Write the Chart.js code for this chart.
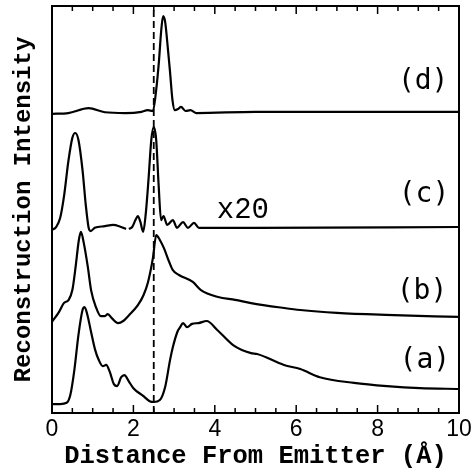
<!DOCTYPE html>
<html>
<head>
<meta charset="utf-8">
<script src="https://cdn.jsdelivr.net/npm/chart.js@4.4.1/dist/chart.umd.min.js"></script>
<style>
  html, body { margin: 0; padding: 0; background: #fff; }
  #wrap { width: 476px; height: 472px; }
</style>
</head>
<body>
<div id="wrap"><canvas id="recChart" width="476" height="472"></canvas></div>
<script>
// curve (d)
const xD = [0, 0.4, 0.9, 1.3, 1.8, 2.2, 2.35, 2.48, 2.56, 2.63, 2.68, 2.73, 2.78, 2.85, 2.9, 2.96, 3.02, 3.1, 3.17, 3.28, 3.4, 3.55, 5, 7, 10];
const yD = [73.5, 73.7, 74.9, 73.9, 73.7, 74.0, 74.4, 74.2, 79.4, 86.7, 93.6, 97.5, 96.1, 89.2, 83.8, 76.9, 74.4, 74.7, 75.2, 74.2, 74.4, 73.7, 74.0, 74.0, 74.0];

// curve (c), first part as measured
const xC1 = [0, 0.1, 0.2, 0.3, 0.4, 0.5, 0.57, 0.65, 0.75, 0.83, 0.9, 0.95, 1.05, 1.3, 1.5, 1.65, 1.82];
const yC1 = [45.0, 45.7, 47.9, 53.6, 61.7, 67.6, 68.8, 67.1, 59.7, 51.1, 45.5, 44.7, 45.5, 45.9, 46.2, 45.9, 45.2];

// curve (c), second part (x20)
const xC2 = [1.89, 1.97, 2.05, 2.11, 2.17, 2.24, 2.3, 2.37, 2.44, 2.5, 2.56, 2.62, 2.68, 2.74, 2.83, 2.97, 3.07, 3.22, 3.34, 3.49, 3.61, 5, 10];
const yC2 = [45.2, 45.7, 47.4, 48.4, 47.0, 44.5, 48.6, 57.2, 67.1, 70.3, 67.1, 56.0, 47.4, 48.4, 46.2, 47.4, 45.5, 46.9, 45.5, 46.7, 45.5, 45.5, 45.7];

// curve (b)
const xB = [0, 0.17, 0.29, 0.41, 0.5, 0.58, 0.66, 0.71, 0.78, 0.88, 0.96, 1.08, 1.2, 1.3, 1.37, 1.47, 1.62, 1.75, 1.87, 2.11, 2.25, 2.36, 2.48, 2.56, 2.65, 2.75, 2.88, 2.97, 3.12, 3.46, 3.66, 4.08, 4.5, 4.89, 5.7, 6.1, 7.0, 8.2, 10];
const yB = [22.4, 24.8, 27.0, 27.8, 30.2, 35.9, 42.5, 44.5, 41.8, 35.9, 30.2, 26.0, 23.8, 23.8, 24.3, 23.3, 22.1, 22.6, 23.8, 26.5, 29.0, 32.2, 38.1, 43.7, 42.5, 40.5, 37.1, 35.1, 33.9, 32.2, 30.2, 28.5, 27.8, 27.0, 25.8, 25.3, 24.6, 24.1, 23.6];

// curve (a)
const xA = [0, 0.2, 0.36, 0.45, 0.55, 0.65, 0.75, 0.8, 0.87, 0.96, 1.06, 1.15, 1.25, 1.33, 1.42, 1.52, 1.6, 1.7, 1.78, 1.88, 2.0, 2.24, 2.4, 2.5, 2.65, 2.78, 2.9, 2.97, 3.08, 3.15, 3.22, 3.32, 3.44, 3.6, 3.8, 4.06, 4.45, 4.89, 5.04, 5.7, 6.1, 6.58, 7.42, 8.23, 9.04, 10];
const yA = [2.2, 2.2, 2.5, 4.4, 10.6, 19.2, 25.3, 26.0, 24.1, 19.9, 15.5, 13.0, 11.5, 11.8, 10.1, 7.1, 6.6, 8.8, 9.3, 7.9, 6.1, 4.2, 2.9, 2.7, 3.2, 6.4, 13.0, 16.2, 19.9, 21.1, 22.1, 21.1, 21.9, 22.1, 22.6, 20.4, 16.7, 14.7, 14.5, 11.8, 10.8, 8.8, 7.4, 6.6, 6.1, 5.9];

// dashed marker and axis ticks
const markerX = 2.5;
const xTickLabels = [0, 2, 4, 6, 8, 10];
const minorStep = 0.5;

// curve labels (text, x, y in data units)
const labelText = ['(d)', '(c)', '(b)', '(a)'];
const labelX = [9.12, 9.14, 9.09, 9.16];
const labelY = [81.4, 53.6, 29.7, 12.8];
const scaleNote = 'x20';
const scaleNoteX = 4.69;
const scaleNoteY = 49.9;

const toPts = (xs, ys) => xs.map((x, i) => ({ x: x, y: ys[i] }));

const lineStyle = { borderColor: '#000', borderWidth: 2.2, pointRadius: 0, fill: false, cubicInterpolationMode: 'monotone' };

const framePlugin = {
    id: 'frame',
    afterDraw(chart) {
        const { ctx, chartArea: a, scales: { x } } = chart;
        ctx.save();
        ctx.strokeStyle = '#000';
        ctx.lineWidth = 2;
        ctx.strokeRect(a.left, a.top, a.right - a.left, a.bottom - a.top);
        ctx.lineWidth = 1.5;
        for (let v = minorStep; v < 10; v += minorStep) {
            const px = x.getPixelForValue(v);
            const len = (v % 2 === 0) ? 8 : 5;
            ctx.beginPath();
            ctx.moveTo(px, a.bottom); ctx.lineTo(px, a.bottom - len);
            ctx.moveTo(px, a.top); ctx.lineTo(px, a.top + len);
            ctx.stroke();
        }
        ctx.restore();
    }
};

const labelPlugin = {
    id: 'curveLabels',
    afterDatasetsDraw(chart) {
        const { ctx, scales: { x, y } } = chart;
        ctx.save();
        ctx.fillStyle = '#000';
        ctx.textAlign = 'center';
        ctx.textBaseline = 'middle';
        ctx.font = '28px "DejaVu Sans Mono"';
        labelText.forEach((t, i) => {
            ctx.fillText(t, x.getPixelForValue(labelX[i]), y.getPixelForValue(labelY[i]));
        });
        ctx.font = '29px "Liberation Mono"';
        ctx.fillText(scaleNote, x.getPixelForValue(scaleNoteX), y.getPixelForValue(scaleNoteY));
        ctx.restore();
    }
};

new Chart(document.getElementById('recChart'), {
    type: 'line',
    data: {
        datasets: [
            { ...lineStyle, data: toPts(xD, yD) },
            { ...lineStyle, data: toPts(xC1, yC1) },
            { ...lineStyle, data: toPts(xC2, yC2) },
            { ...lineStyle, data: toPts(xB, yB) },
            { ...lineStyle, data: toPts(xA, yA) },
            { data: [{ x: markerX, y: 0 }, { x: markerX, y: 100 }], borderColor: '#000', borderWidth: 1.8, borderDash: [7, 4], pointRadius: 0 }
        ]
    },
    options: {
        responsive: false,
        devicePixelRatio: 1,
        animation: false,
        layout: { padding: { top: 6, right: 17, bottom: 0, left: 0 } },
        plugins: { legend: { display: false }, tooltip: { enabled: false } },
        scales: {
            x: {
                type: 'linear', min: 0, max: 10,
                grid: { display: false, drawTicks: false },
                border: { display: false },
                afterBuildTicks: s => { s.ticks = xTickLabels.map(v => ({ value: v })); },
                afterFit: s => { s.height = 59; },
                ticks: { color: '#000', padding: 3, maxRotation: 0, autoSkip: false, font: { family: 'Liberation Sans', size: 23 } },
                title: { display: true, text: 'Distance From Emitter (Å)', color: '#000', padding: { top: 0, bottom: 0.6 }, font: { family: 'Liberation Mono', size: 25.5, weight: 'bold' } }
            },
            y: {
                type: 'linear', min: 0, max: 100,
                grid: { display: false, drawTicks: false },
                border: { display: false },
                ticks: { display: false },
                afterFit: s => { s.width = 52; },
                title: { display: true, text: 'Reconstruction Intensity', color: '#000', padding: { top: 9.6, bottom: 0 }, font: { family: 'Liberation Mono', size: 24, weight: 'bold' } }
            }
        }
    },
    plugins: [framePlugin, labelPlugin]
});
</script>
</body>
</html>
